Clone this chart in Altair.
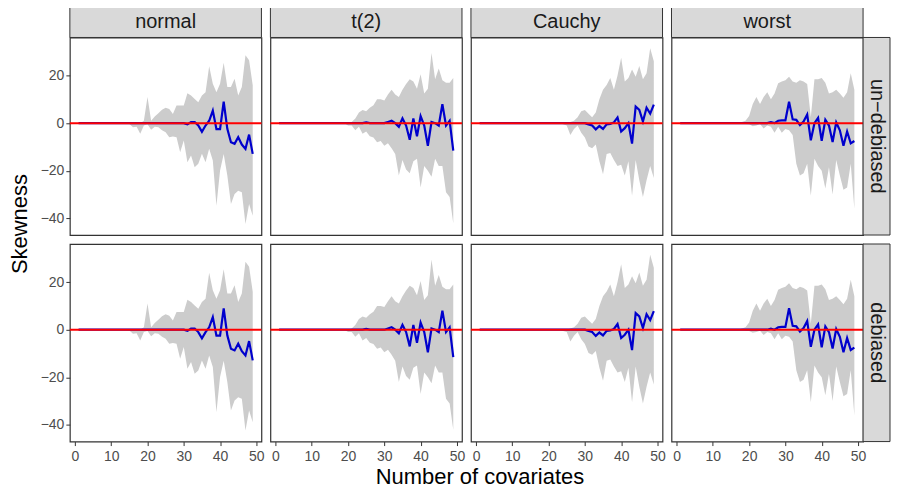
import altair as alt
import pandas as pd

# ---------------- data ----------------
covariates = list(range(1, 50))
dist_levels = ["normal", "t(2)", "Cauchy", "worst"]
bias_levels = ["un\u2212debiased", "debiased"]

z = lambda n: [0.0] * n

normal_mean = z(30) + [-0.5, 0.5, 0.5, -1, -3.6, -1, 1, 5.3, -2.5, -2.5, 9, -2.4, -8, -8.7, -5.9, -9, -10.8, -4.8, -12.9]
normal_lo = z(14) + [-0.3, -1.7, -1.5, -4.5, -1, -0.5, -2.8, -1.5, -1.7, -3, -3.8, -5.9, -5.6, -5.9, -12.2, -7.3,
                     -16.4, -13.6, -18.5, -17.1, -12.9, -16.4, -10.8, -15.7, -34.7, -19.9, -13, -22, -34, -29.8, -28.4, -29, -42.4, -34, -38.9]
normal_hi = z(14) + [0, 0, 0.3, 0, 1, 11, 1, 2.8, 4.2, 5.6, 6.5, 5.9, 3.9, 7.4, 7.4, 7.4,
                     12.6, 11.6, 10.2, 8.8, 11.6, 13, 23.9, 16.6, 13, 16.6, 25.4, 15.2, 15.2, 18.7, 11.6, 15.2, 28.5, 26.4, 15.9]

t2_mean = z(24) + [0.3, 0, 0, 0, 0, 0, 0.5, 1, 0, -1.5, 2, -1, -7, 2, -5.5, 3, -1, -9.5, 0.5, 0, -1, 8, -1, 1, -11.5]
t2_lo = z(19) + [-1, -1, -3, -1.5, -4.5, -3.5, -5.5, -6, -8, -7.5, -9.5, -8.4, -10.5, -13, -22, -15.5, -19.5, -21, -16, -15,
                 -27, -18, -20, -22.5, -15, -18, -18, -29, -31, -42]
t2_hi = z(19) + [0, 0.5, 2, 4.5, 5.5, 5, 6.5, 7.5, 10, 10, 9.5, 12, 14, 12, 11, 14, 16.5, 18.5, 17.5, 14.5,
                 20.5, 12.5, 14.5, 29.5, 18.5, 23, 18, 17, 17, 19]

cauchy_mean = z(30) + [-0.5, -1, -2.6, -1.2, -2.4, -0.5, -0.3, 0.3, 2.4, -3.5, -2.1, 0, -8.6, 7, 5.6, 0.7, 6.5, 4, 7.8]
cauchy_lo = z(23) + [-0.5, -1, -5, -2.5, -1, -4, -6, -9.8, -10.5, -9, -16, -21.5, -13, -12.5, -15.5, -18, -17.5, -22, -16,
                     -30.5, -15.5, -24, -31, -24, -18, -23]
cauchy_hi = z(23) + [0, 0, 0.5, 1, 2.5, 5, 5.5, 4, 2.5, 4.5, 10, 14, 16, 19, 14, 20, 27.5, 17.5, 19,
                     22.5, 19.5, 24, 18.5, 21, 31.5, 26]

worst_mean = z(25) + [0.4, 0, 1, 1.2, 1.2, 9, 1.6, 1.4, -0.8, 0.7, 3.6, -7.2, 0, 2.2, -7.4, 1.4, -1, -7.9, 0.3, -3, -9.5, -3.5, -8.5, -7.5]
worst_lo = z(17) + [0, -0.3, -0.5, -1.3, -1, -0.4, -2.2, -1, -1.5, -4, -1.5, -4, -2.5, -3, -5, -17, -22, -21, -17,
                    -30.5, -15, -18, -20, -27.5, -18.5, -30, -15.5, -22, -28, -27, -17, -36]
worst_hi = z(17) + [0.5, 1, 3, 8, 11, 8, 11, 13, 10, 12.5, 16.8, 17.5, 18, 19.5, 17.5, 17, 18, 17.5, 16.5,
                    2.5, 18.5, 18.5, 19, 17, 12.5, 13, 14, 12.5, 10.7, 13, 21, 14]

series = {
    "normal": (normal_mean, normal_lo, normal_hi),
    "t(2)": (t2_mean, t2_lo, t2_hi),
    "Cauchy": (cauchy_mean, cauchy_lo, cauchy_hi),
    "worst": (worst_mean, worst_lo, worst_hi),
}

x_ticks = [0, 10, 20, 30, 40, 50]
y_ticks = [-40, -20, 0, 20]

rows = []
for b in bias_levels:
    for d in dist_levels:
        m, lo, hi = series[d]
        for i, xv in enumerate(covariates):
            rows.append({"bias": b, "dist": d, "x": xv, "mean": m[i], "lo": lo[i], "hi": hi[i]})
df = pd.DataFrame(rows)

# ---------------- layout constants ----------------
W, H = 192, 198
STRIP_H = 31
RSTRIP_W = 27
FONT = "Liberation Sans"

xs = alt.Scale(domain=[-1.4, 51.4], nice=False, zero=False)
ys = alt.Scale(domain=[-47, 36], nice=False, zero=False)
x_axis = alt.Axis(values=x_ticks, title=None)
y_axis = alt.Axis(values=y_ticks, title=None)

X = alt.X("x:Q", scale=xs, axis=x_axis, title=None)

band = alt.Chart().mark_area(color="#CCCCCC", opacity=1).encode(
    x=X,
    y=alt.Y("lo:Q", scale=ys, axis=y_axis, title=None),
    y2="hi:Q",
)
line = alt.Chart().mark_line(color="#0000CD", strokeWidth=2.2).encode(
    x=X,
    y=alt.Y("mean:Q", scale=ys, axis=y_axis, title=None),
)
zero = alt.Chart().mark_rule(color="#FF0000", strokeWidth=2).encode(
    y=alt.datum(0, scale=ys)
).transform_filter("datum.x == 1")

top_filter = "datum.x == 1 && datum.bias != 'debiased'"
right_filter = "datum.x == 1 && datum.dist == 'worst'"

strip_bg = alt.Chart().mark_rect(fill="#D9D9D9", stroke="#333333", strokeWidth=1).encode(
    x=alt.value(0), x2=alt.value(W), y=alt.value(-STRIP_H), y2=alt.value(0)
).transform_filter(top_filter)
strip_txt = alt.Chart().mark_text(font=FONT, fontSize=20, color="#1A1A1A", baseline="middle", align="center").encode(
    x=alt.value(W / 2), y=alt.value(-STRIP_H / 2 + 0.5), text="dist:N"
).transform_filter(top_filter)

rstrip_bg = alt.Chart().mark_rect(fill="#D9D9D9", stroke="#333333", strokeWidth=1).encode(
    x=alt.value(W), x2=alt.value(W + RSTRIP_W), y=alt.value(0), y2=alt.value(H)
).transform_filter(right_filter)
rstrip_txt = alt.Chart().mark_text(font=FONT, fontSize=20, color="#1A1A1A", baseline="middle", align="center", angle=90).encode(
    x=alt.value(W + RSTRIP_W / 2), y=alt.value(H / 2), text="bias:N"
).transform_filter(right_filter)

layered = alt.layer(band, line, zero, strip_bg, strip_txt, rstrip_bg, rstrip_txt, data=df).properties(width=W, height=H)

chart = layered.facet(
    column=alt.Column("dist:N", sort=dist_levels,
                      header=alt.Header(labels=False, labelPadding=0, title="Number of covariates", titleOrient="bottom",
                                        titleFont=FONT, titleFontSize=22, titleFontWeight="normal",
                                        titleColor="#000000", titlePadding=-6)),
    row=alt.Row("bias:N", sort=bias_levels,
                header=alt.Header(labels=False, labelPadding=0, title="Skewness", titleOrient="left",
                                  titleFont=FONT, titleFontSize=22, titleFontWeight="normal",
                                  titleColor="#000000", titlePadding=-2)),
    spacing=9,
    bounds="flush",
).properties(padding={"top": -4, "left": 0, "right": 0, "bottom": 0}, background="white").configure_view(
    stroke="#333333", strokeWidth=1.2
).configure_axis(
    labelFont=FONT, labelFontSize=14, labelColor="#4D4D4D", tickColor="#333333",
    tickSize=4, tickWidth=1, domain=False, grid=False, labelPadding=2
).configure_axisX(labelPadding=4)

chart.save("out.html", embed_options={"renderer": "svg", "actions": False})
